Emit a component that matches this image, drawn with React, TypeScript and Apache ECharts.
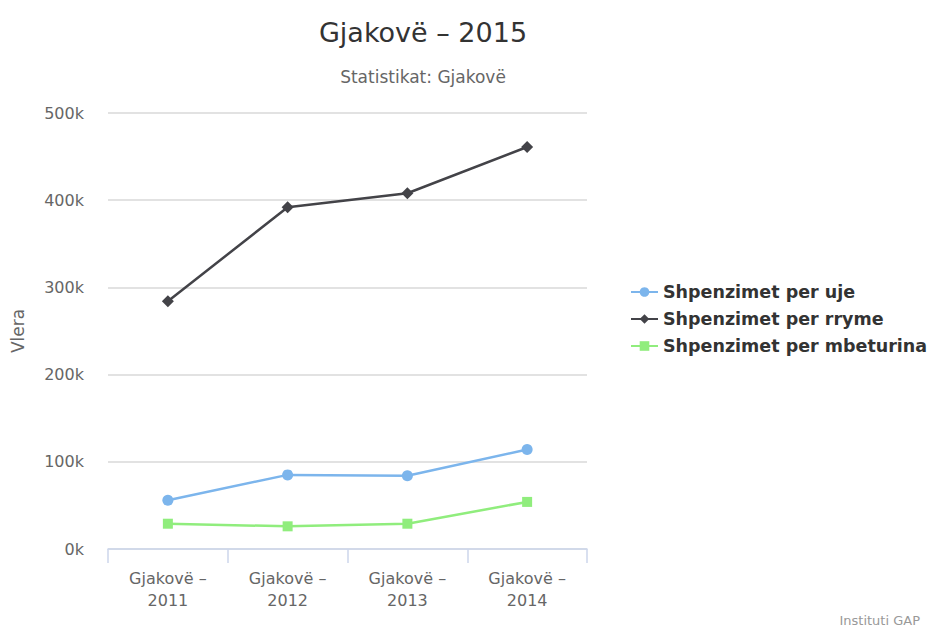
import React, { useEffect, useRef } from "react";
import * as echarts from "echarts";

const categories = ["Gjakovë –\n2011", "Gjakovë –\n2012", "Gjakovë –\n2013", "Gjakovë –\n2014"];
const ujeValues = [56000, 85000, 84000, 114000];
const rrymeValues = [284000, 392000, 408000, 461000];
const mbeturinaValues = [29000, 26000, 29000, 54000];
const seriesNames = ["Shpenzimet per uje", "Shpenzimet per rryme", "Shpenzimet per mbeturina"];
const titleText = "Gjakovë – 2015";
const subtitleText = "Statistikat: Gjakovë";
const creditText = "Instituti GAP";
const yAxisName = "Vlera";

const FONT = "'DejaVu Sans', sans-serif";

export default function App() {
  const ref = useRef<HTMLDivElement>(null);
  useEffect(() => {
    if (!ref.current) return;
    const chart = echarts.init(ref.current, undefined, { renderer: "svg" });
    const mk = (name: string, data: number[], color: string, symbol: string, size: number) => ({
      name,
      type: "line",
      data,
      symbol,
      symbolSize: size,
      lineStyle: { color, width: 2.5 },
      itemStyle: { color },
      emphasis: { disabled: true },
    });
    chart.setOption({
      animation: false,
      textStyle: { fontFamily: FONT },
      graphic: [
        {
          type: "text",
          x: 423,
          y: 32,
          style: {
            text: titleText,
            fill: "#333333",
            font: `27px ${FONT}`,
            align: "center",
            verticalAlign: "middle",
            textAlign: "center",
            textVerticalAlign: "middle",
          },
        },
        {
          type: "text",
          x: 423,
          y: 77,
          style: {
            text: subtitleText,
            fill: "#666666",
            font: `17px ${FONT}`,
            align: "center",
            verticalAlign: "middle",
            textAlign: "center",
            textVerticalAlign: "middle",
          },
        },
        {
          type: "text",
          x: 920,
          y: 620,
          style: {
            text: creditText,
            fill: "#999999",
            font: `13px ${FONT}`,
            align: "right",
            verticalAlign: "middle",
            textAlign: "right",
            textVerticalAlign: "middle",
          },
        },
      ],
      grid: { left: 108, right: 343, top: 113, bottom: 81, containLabel: false, outerBoundsMode: "none" },
      legend: {
        orient: "vertical",
        left: 630,
        top: 282,
        padding: 0,
        itemWidth: 27,
        itemHeight: 12,
        itemGap: 7,
        textStyle: { fontSize: 17.5, fontWeight: "bold", color: "#333333", fontFamily: FONT, lineHeight: 20 },
        data: seriesNames,
      },
      xAxis: {
        type: "category",
        data: categories,
        boundaryGap: true,
        axisLine: { lineStyle: { color: "#ccd6eb", width: 1.5 } },
        axisTick: { show: true, length: 14, alignWithLabel: false, lineStyle: { color: "#ccd6eb", width: 1.5 } },
        axisLabel: { color: "#666666", fontSize: 16, lineHeight: 22, margin: 18, fontFamily: FONT },
        splitLine: { show: false },
      },
      yAxis: {
        type: "value",
        min: 0,
        max: 500000,
        interval: 100000,
        name: yAxisName,
        nameLocation: "middle",
        nameGap: 82,
        nameRotate: 90,
        nameTextStyle: { color: "#666666", fontSize: 17, fontFamily: FONT },
        axisLine: { show: false },
        axisTick: { show: false },
        axisLabel: {
          color: "#666666",
          fontSize: 16,
          margin: 24,
          fontFamily: FONT,
          formatter: (v: number) => `${v / 1000}k`,
        },
        splitLine: { lineStyle: { color: "#d9d9d9", width: 1.5 } },
      },
      series: [
        mk(seriesNames[0], ujeValues, "#7cb5ec", "circle", 11),
        mk(seriesNames[1], rrymeValues, "#434348", "diamond", 12),
        mk(seriesNames[2], mbeturinaValues, "#90ed7d", "rect", 10),
      ],
    });
    return () => chart.dispose();
  }, []);
  return <div ref={ref} style={{ width: 930, height: 630, position: "absolute", left: 0, top: 0 }} />;
}
